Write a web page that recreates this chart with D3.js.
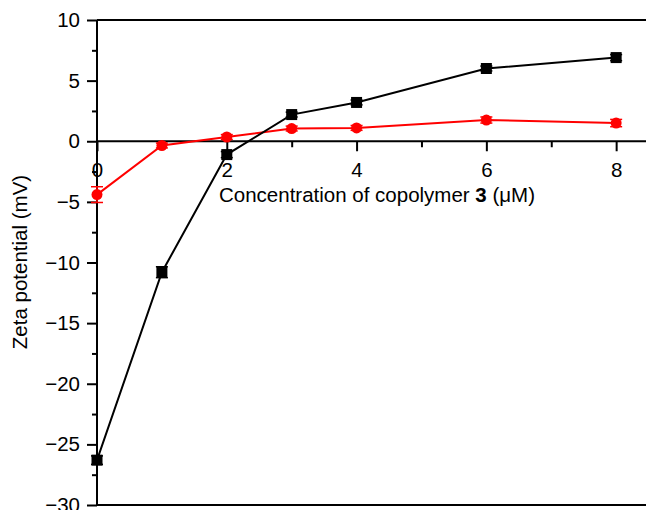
<!DOCTYPE html>
<html>
<head>
<meta charset="utf-8">
<script src="https://cdn.jsdelivr.net/npm/d3@7"></script>
<style>
  body { margin: 0; background: #fff; }
  svg { display: block; font-family: "Liberation Sans", Arial, Helvetica, sans-serif; }
</style>
</head>
<body>
<svg width="646" height="510"></svg>
<script>
// concentration of copolymer 3 (uM)
var conc = [0, 1, 2, 3, 4, 6, 8];
// black squares
var blackVals = [-26.3, -10.8, -1.1, 2.2, 3.2, 6.0, 6.9];
var blackErr  = [0.35, 0.45, 0.25, 0.2, 0.2, 0.2, 0.25];
// red circles
var redVals = [-4.4, -0.35, 0.35, 1.05, 1.1, 1.75, 1.5];
var redErr  = [0.65, 0.2, 0.2, 0.2, 0.2, 0.25, 0.3];

var xMajor = [0, 2, 4, 6, 8];
var xMinor = [1, 3, 5, 7];
var yMajor = [10, 5, 0, -5, -10, -15, -20, -25, -30];
var yMinor = [7.5, 2.5, -2.5, -7.5, -12.5, -17.5, -22.5, -27.5];

var fontSize = "20.5px";

function main() {
  var svg = d3.select("svg");
  var left = 97, right = 646, top = 20, bottom = 505;

  var xScale = d3.scaleLinear().domain([0, 8.46]).range([left, right]);
  var yScale = d3.scaleLinear().domain([-30, 10]).range([bottom, top]);

  // frame lines top and bottom
  svg.append("line").attr("x1", left).attr("x2", right).attr("y1", top).attr("y2", top)
    .attr("stroke", "#000").attr("stroke-width", 2);
  svg.append("line").attr("x1", left).attr("x2", right).attr("y1", bottom).attr("y2", bottom)
    .attr("stroke", "#000").attr("stroke-width", 2);

  // y axis
  var yAxis = d3.axisLeft(yScale).tickValues(yMajor).tickSize(10).tickPadding(7)
    .tickFormat(d3.format("d"));
  var gy = svg.append("g").attr("transform", "translate(" + left + ",0)").call(yAxis);
  var yMin = d3.axisLeft(yScale).tickValues(yMinor).tickSize(5).tickFormat("");
  var gy2 = svg.append("g").attr("transform", "translate(" + left + ",0)").call(yMin);

  // x axis at y = 0
  var xAxis = d3.axisBottom(xScale).tickValues(xMajor).tickSize(10).tickPadding(11)
    .tickFormat(d3.format("d"));
  var gx = svg.append("g").attr("transform", "translate(0," + yScale(0) + ")").call(xAxis);
  var xMin = d3.axisBottom(xScale).tickValues(xMinor).tickSize(6).tickFormat("");
  var gx2 = svg.append("g").attr("transform", "translate(0," + yScale(0) + ")").call(xMin);

  [gy, gy2, gx, gx2].forEach(function(g) {
    g.select(".domain").remove();
    g.selectAll("line").attr("stroke", "#000").attr("stroke-width", 2);
    g.selectAll("text").attr("fill", "#000").style("font-size", fontSize)
      .style("font-family", "'Liberation Sans', Arial, sans-serif");
  });
  svg.append("line").attr("x1", left).attr("x2", left).attr("y1", top).attr("y2", bottom)
    .attr("stroke", "#000").attr("stroke-width", 2);
  svg.append("line").attr("x1", left).attr("x2", right).attr("y1", yScale(0)).attr("y2", yScale(0))
    .attr("stroke", "#000").attr("stroke-width", 2);

  // axis titles
  var xt = svg.append("text").attr("x", 377).attr("y", 202).attr("text-anchor", "middle")
    .style("font-size", fontSize).attr("fill", "#000");
  xt.append("tspan").text("Concentration of copolymer ");
  xt.append("tspan").attr("font-weight", "bold").text("3");
  xt.append("tspan").text(" (\u03bcM)");

  svg.append("text").attr("transform", "translate(27,262) rotate(-90)")
    .attr("text-anchor", "middle").style("font-size", fontSize).attr("fill", "#000")
    .text("Zeta potential (mV)");

  var line = d3.line().x(function(d) { return xScale(d[0]); }).y(function(d) { return yScale(d[1]); });

  function drawSeries(vals, errs, color, shape) {
    var pts = conc.map(function(c, i) { return [c, vals[i], errs[i]]; });
    svg.append("path").datum(pts).attr("d", line).attr("fill", "none")
      .attr("stroke", color).attr("stroke-width", 2);
    var eb = svg.append("g").attr("stroke", color).attr("stroke-width", 1.5);
    pts.forEach(function(p) {
      var cx = xScale(p[0]);
      eb.append("line").attr("x1", cx).attr("x2", cx)
        .attr("y1", yScale(p[1] - p[2])).attr("y2", yScale(p[1] + p[2]));
      [p[1] - p[2], p[1] + p[2]].forEach(function(v) {
        eb.append("line").attr("x1", cx - 6).attr("x2", cx + 6)
          .attr("y1", yScale(v)).attr("y2", yScale(v));
      });
    });
    if (shape === "square") {
      svg.append("g").selectAll("rect").data(pts).enter().append("rect")
        .attr("x", function(d) { return xScale(d[0]) - 5.5; })
        .attr("y", function(d) { return yScale(d[1]) - 5.5; })
        .attr("width", 11).attr("height", 11).attr("fill", color);
    } else {
      svg.append("g").selectAll("circle").data(pts).enter().append("circle")
        .attr("cx", function(d) { return xScale(d[0]); })
        .attr("cy", function(d) { return yScale(d[1]); })
        .attr("r", 5.5).attr("fill", color);
    }
  }

  drawSeries(redVals, redErr, "#ff0000", "circle");
  drawSeries(blackVals, blackErr, "#000000", "square");
}

window.onload = function() {
  main();
};
</script>
</body>
</html>
